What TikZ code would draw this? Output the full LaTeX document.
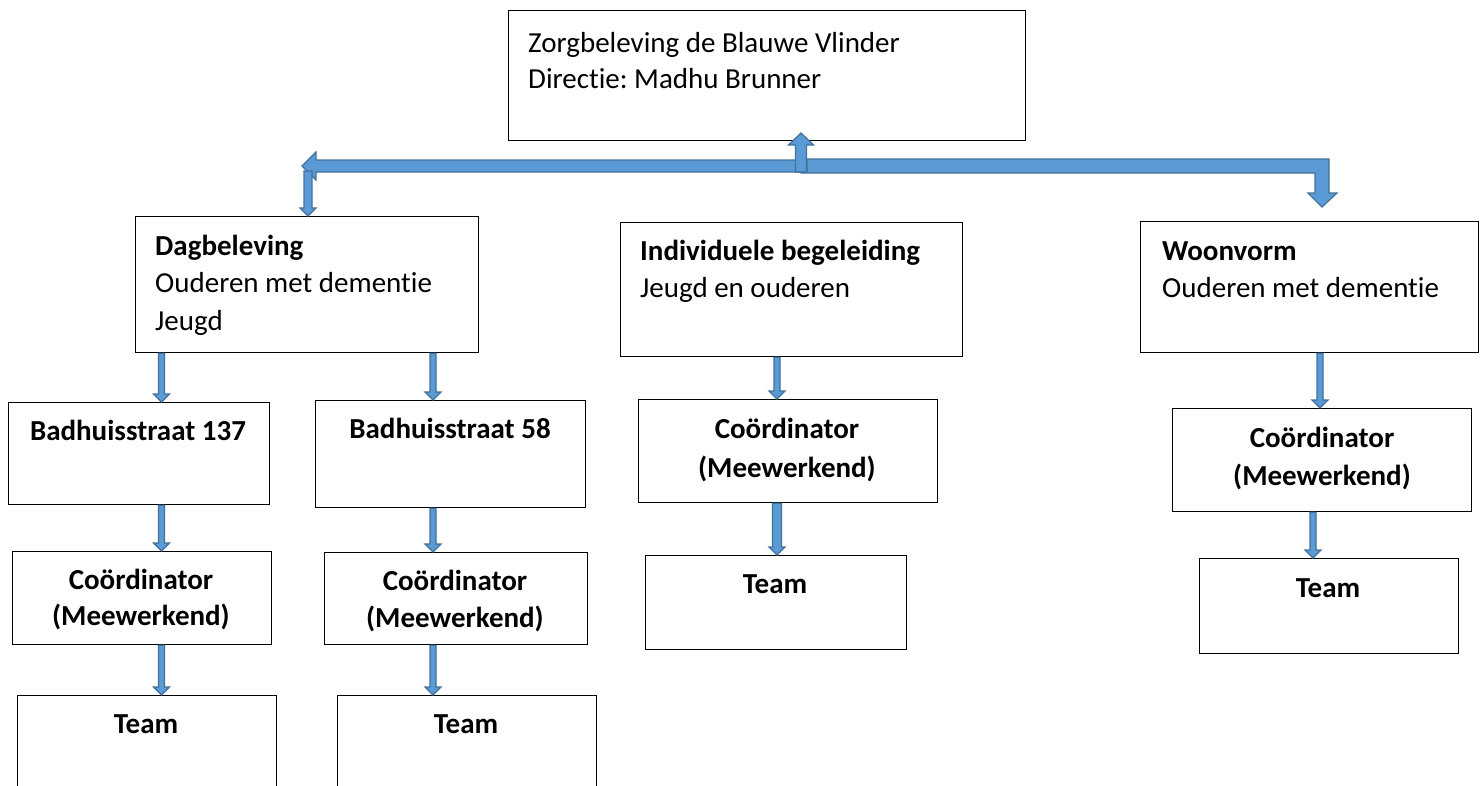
\documentclass[tikz,border=0pt]{standalone}
\usepackage{fontspec}
\setmainfont{Carlito}[Ligatures=NoCommon]
\usetikzlibrary{calc}

\definecolor{pijlblauw}{RGB}{91,155,213}
\definecolor{pijlrand}{RGB}{65,113,156}
\newcommand\groot{\fontsize{29}{37}\selectfont}

\tikzset{
  vak/.style={draw, line width=1.3pt, anchor=north west, inner sep=0pt},
  regel/.style={anchor=base west, inner sep=0pt, font=\groot},
  vet/.style={regel, font=\groot\bfseries},
  kop/.style={anchor=base, inner sep=0pt, font=\groot\bfseries},
  pijl/.style={fill=pijlblauw, draw=pijlrand, line width=1.2pt, line join=miter},
}

% blue block arrow pointing down: start height from #2, tip at #3
\newcommand\pijlneer[3][3pt]{%
  \draw[pijl] let \p1=(#2), \p2=(#3) in
    (\x2-#1,\y1) -- (\x2+#1,\y1) -- (\x2+#1,\y2+8pt) -- (\x2+8pt,\y2+8pt)
    -- (\x2,\y2) -- (\x2-8pt,\y2+8pt) -- (\x2-#1,\y2+8pt) -- cycle;}

\frenchspacing
\begin{document}
\begin{tikzpicture}[x=1pt, y=-1pt]
\useasboundingbox (0,0) rectangle (1484,785);
\clip (0,0) rectangle (1484,785);

% boxes
\node[vak, minimum width=517, minimum height=130] (top) at (508,10) {};
\node[vak, minimum width=343, minimum height=136] (dag) at (135,216) {};
\node[vak, minimum width=342, minimum height=134] (ind) at (620,222) {};
\node[vak, minimum width=338, minimum height=131] (woon) at (1140,221) {};
\node[vak, minimum width=261, minimum height=102] (bad137) at (8,402) {};
\node[vak, minimum width=270, minimum height=107] (bad58) at (315,400) {};
\node[vak, minimum width=259, minimum height=93] (coorda) at (12,551) {};
\node[vak, minimum width=263, minimum height=92] (coordb) at (324,552) {};
\node[vak, minimum width=299, minimum height=103] (coordc) at (638,399) {};
\node[vak, minimum width=299, minimum height=103] (coordd) at (1172,408) {};
\node[vak, minimum width=259, minimum height=120] (teama) at (17,695) {};
\node[vak, minimum width=259, minimum height=120] (teamb) at (337,695) {};
\node[vak, minimum width=261, minimum height=94] (teamc) at (645,555) {};
\node[vak, minimum width=259, minimum height=95] (teamd) at (1199,558) {};

% texts
\node[regel] (toptxt) at (528,52) {Zorgbeleving de Blauwe Vlinder};
\node[regel] (directie) at (528,88) {Directie: Madhu Brunner};
\node[vet] (dagtxt) at (155,255) {Dagbeleving};
\node[regel] (dagdoel) at (155,292) {Ouderen met dementie};
\node[regel] (dagjeugd) at (155,330) {Jeugd};
\node[vet] (indtxt) at (640,260) {Individuele begeleiding};
\node[regel] (inddoel) at (640,297) {Jeugd en ouderen};
\node[vet] (woontxt) at (1162,260) {Woonvorm};
\node[regel] (woondoel) at (1162,297) {Ouderen met dementie};
\node[kop] (bad137txt) at (138,440) {Badhuisstraat 137};
\node[kop] (bad58txt) at (450,438) {Badhuisstraat 58};
\node[kop] (coordatxt) at (141,589) {Coördinator};
\node[kop] (coordamw) at (141,625) {(Meewerkend)};
\node[kop] (coordbtxt) at (455,590) {Coördinator};
\node[kop] (coordbmw) at (455,627) {(Meewerkend)};
\node[kop] (coordctxt) at (787,438) {Coördinator};
\node[kop] (coordcmw) at (787,477) {(Meewerkend)};
\node[kop] (coorddtxt) at (1322,447) {Coördinator};
\node[kop] (coorddmw) at (1322,485) {(Meewerkend)};
\node[kop] (teamatxt) at (146,733) {Team};
\node[kop] (teambtxt) at (466,733) {Team};
\node[kop] (teamctxt) at (775,593) {Team};
\node[kop] (teamdtxt) at (1328,597) {Team};

% top arrows
\coordinate (hub) at (801,166);
\coordinate (links) at (302,166);
\draw[pijl] ($(hub)+(0,-7)$) -- ++(528,0) -- ++(0,34) -- ++(8,0) -- ++(-15,14)
  -- ++(-14,-14) -- ++(7,0) -- ++(0,-20) -- ++(-514,0) -- cycle;
\draw[pijl] (links) -- ++(14,-14) -- ++(0,8) -- ++(491,0) -- ++(0,12)
  -- ++(-491,0) -- ++(0,8) -- cycle;
\draw[pijl] ($(hub)+(-5.5,6)$) -- ++(0,-27) -- ++(-7,0) -- ++(12.5,-12)
  -- ++(12.5,12) -- ++(-7,0) -- ++(0,27) -- cycle;

% x positions of the small arrows
\coordinate (xa) at (308,0);
\coordinate (xb) at (161.5,0);
\coordinate (xc) at (433,0);
\coordinate (xd) at (777,0);
\coordinate (xe) at (1320,0);
\coordinate (xf) at (1313,0);

\pijlneer[4pt]{$(links)+(6,5)$}{dag.north -| xa}
\pijlneer{dag.south}{bad137.north -| xb}
\pijlneer{dag.south}{bad58.north -| xc}
\pijlneer{bad137.south}{coorda.north -| xb}
\pijlneer{bad58.south}{coordb.north -| xc}
\pijlneer{coorda.south}{teama.north -| xb}
\pijlneer{coordb.south}{teamb.north -| xc}
\pijlneer{ind.south}{coordc.north -| xd}
\pijlneer[4.5pt]{coordc.south}{teamc.north -| xd}
\pijlneer{woon.south}{coordd.north -| xe}
\pijlneer{coordd.south}{teamd.north -| xf}
\end{tikzpicture}
\end{document}
